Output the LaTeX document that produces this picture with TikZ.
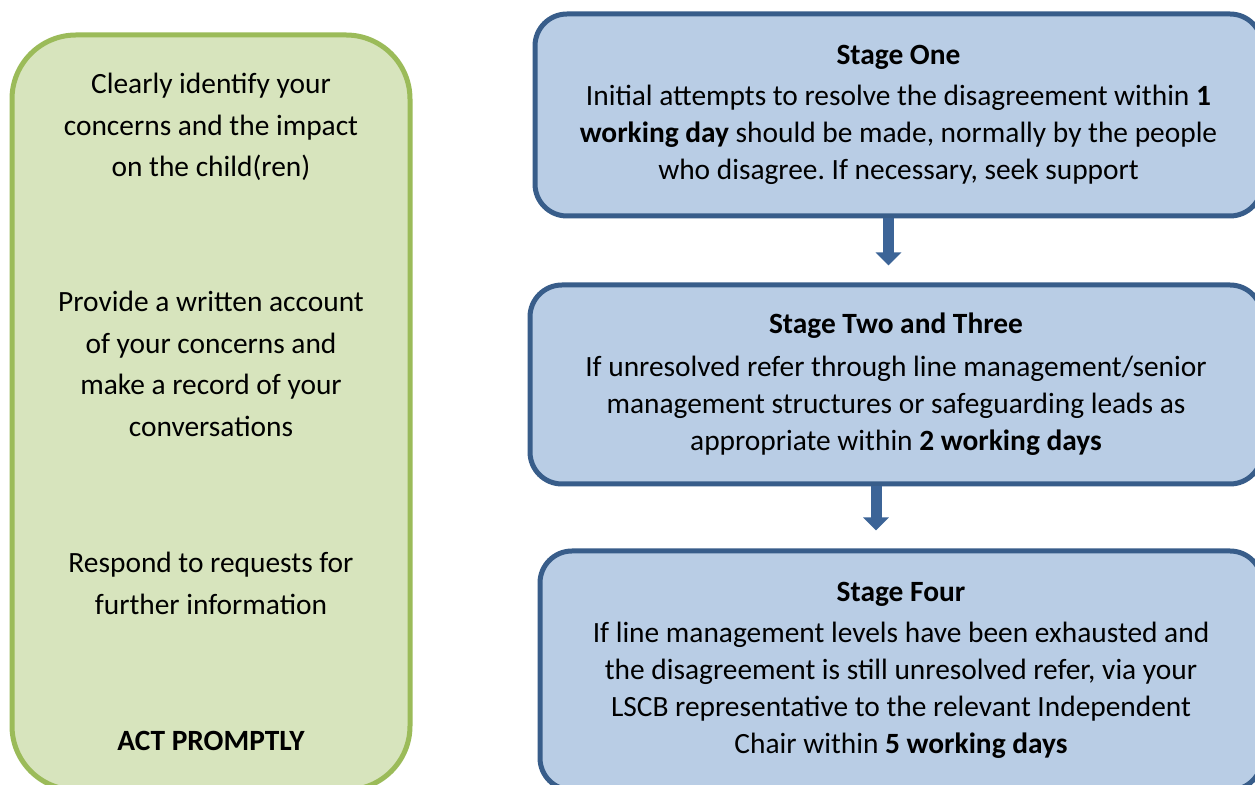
\documentclass[tikz,border=0pt]{standalone}
\usepackage{fontspec}
\setmainfont{Carlito}
\frenchspacing
\usetikzlibrary{arrows.meta}
\definecolor{stagefill}{HTML}{B9CDE5}
\definecolor{stageline}{HTML}{385D8A}
\definecolor{sidefill}{HTML}{D7E4BD}
\definecolor{sideline}{HTML}{9BBB59}
\definecolor{flowblue}{HTML}{3C6497}

\begin{document}
\begin{tikzpicture}[x=0.5pt,y=-0.5pt,
    stagebox/.style={draw=stageline,fill=stagefill,line width=2.5pt,rounded corners=16pt,
      align=center,font=\fontsize{14.7pt}{18.5pt}\selectfont},
    sidebox/.style={draw=sideline,fill=sidefill,line width=2.5pt,rounded corners=32pt},
    sidetext/.style={align=center,font=\fontsize{14.7pt}{20.7pt}\selectfont},
    flowarrow/.style={flowblue,line width=5.5pt,-{Triangle[width=12.5pt,length=6.5pt]}}]
  \clip (0,0) rectangle (1255,785);
  \fill[white] (0,0) rectangle (1255,785);

  % left column
  \node[sidebox,minimum width=199pt,minimum height=377.5pt] (side) at (211,412.5) {};
  \node[sidetext] (concerns) at (211,127) {Clearly identify your\\concerns and the impact\\on the child(ren)};
  \node[sidetext] (account) at (211,364) {Provide a written account\\of your concerns and\\make a record of your\\conversations};
  \node[sidetext] (requests) at (211,583.5) {Respond to requests for\\further information};
  \node[sidetext,font=\fontsize{14.7pt}{20.7pt}\selectfont\bfseries] (prompt) at (211,741) {ACT PROMPTLY};

  % the stages
  \node[stagebox,minimum width=363.5pt,minimum height=101pt] (one) at (898.5,115)
    {\textbf{Stage One}\\[2pt]
     Initial attempts to resolve the disagreement within \textbf{1}\\
     \textbf{working day} should be made, normally by the people\\
     who disagree. If necessary, seek support};
  \node[stagebox,minimum width=366pt,minimum height=99.5pt] (two) at (896,384.5)
    {\textbf{Stage Two and Three}\\[3pt]
     If unresolved refer through line management/senior\\
     management structures or safeguarding leads as\\
     appropriate within \textbf{2 working days}};
  \node[stagebox,minimum width=361pt,minimum height=119.5pt] (four) at (901,670.5)
    {\textbf{Stage Four}\\[2pt]
     If line management levels have been exhausted and\\
     the disagreement is still unresolved refer, via your\\
     LSCB representative to the relevant Independent\\
     Chair within \textbf{5 working days}};

  \draw[flowarrow,shorten >=8.5pt] ([xshift=-5pt]one.south) -- ([xshift=-5pt]one.south |- two.north);
  \draw[flowarrow,shorten >=9pt] ([xshift=-10pt]two.south) -- ([xshift=-10pt]two.south |- four.north);
\end{tikzpicture}
\end{document}
